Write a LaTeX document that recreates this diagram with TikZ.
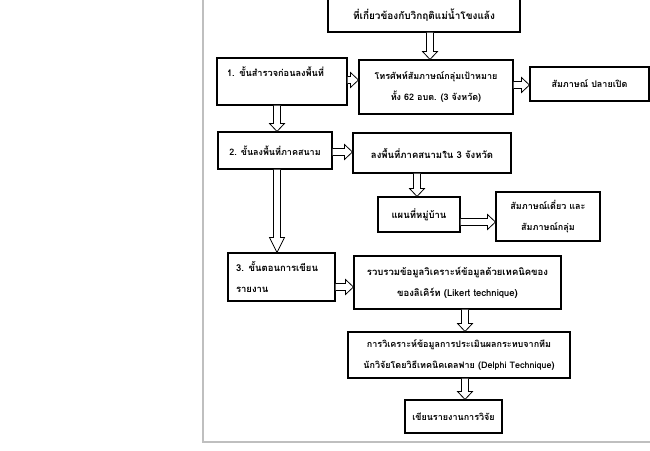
\documentclass[tikz,border=0pt]{standalone}
\usepackage{fontspec}
\newfontfamily\thai[Script=Thai]{Loma}
\usetikzlibrary{calc}
\tikzset{
  fs/.style={font=\thai\bfseries\fontsize{#1}{21}\selectfont},
  box/.style={draw=black, line width=1.1pt, inner sep=0pt, align=center, fs=9},
  barrow/.style={draw=black, line width=0.8pt, fill=white, line join=miter},
  frameline/.style={draw=black!25, line width=1.6pt}
}
\newcommand\darrow[4][8]{\draw[barrow] let \p1=(#2), \p2=(#3) in
 (#4pt-3.5pt,\y1) -- (#4pt-3.5pt,\y2+#1pt) -- (#4pt-7.5pt,\y2+#1pt) -- (#4pt,\y2)
 -- (#4pt+7.5pt,\y2+#1pt) -- (#4pt+3.5pt,\y2+#1pt) -- (#4pt+3.5pt,\y1);}
\newcommand\rarrow[4][8]{\draw[barrow] let \p1=(#2), \p2=(#3) in
 (\x1,-#4pt+3.5pt) -- (\x2-#1pt,-#4pt+3.5pt) -- (\x2-#1pt,-#4pt+7.5pt) -- (\x2,-#4pt)
 -- (\x2-#1pt,-#4pt-7.5pt) -- (\x2-#1pt,-#4pt-3.5pt) -- (\x1,-#4pt-3.5pt);}
\begin{document}
\begin{tikzpicture}[x=1pt,y=-1pt]
\useasboundingbox (0,0) rectangle (650,450);
\clip (0,0) rectangle (650,450);
\fill[white] (0,0) rectangle (650,450);
\draw[frameline] (203,0) -- (203,442) -- (650,442);

\node[box, fs=10, minimum width=192, minimum height=62, text height=49pt, text depth=13pt] (top) at (424,1)
  {ที่เกี่ยวข้องกับวิกฤติแม่น้ำโขงแล้ง};
\node[box, fs=9.2, minimum width=130, minimum height=47, text height=18pt, text depth=29pt,
  align=left, text width=110pt] (s1) at (282,81.5) {1. ขั้นสำรวจก่อนลงพื้นที่};
\node[box, fs=9, minimum width=154, minimum height=54] (A) at (436,87)
  {โทรศัพท์สัมภาษณ์กลุ่มเป้าหมาย\\ทั้ง 62 อบต. (3 จังหวัด)};
\node[box, fs=9, minimum width=119, minimum height=34] (R) at (589.5,84) {สัมภาษณ์ ปลายเปิด};
\node[box, fs=9, minimum width=114, minimum height=37] (s2) at (275,150.5) {2. ขั้นลงพื้นที่ภาคสนาม};
\node[box, fs=9.5, minimum width=158, minimum height=40] (B) at (432,153) {ลงพื้นที่ภาคสนามใน 3 จังหวัด};
\node[box, fs=9.5, minimum width=82, minimum height=35] (C) at (419,214.5) {แผนที่หมู่บ้าน};
\node[box, fs=9, minimum width=104, minimum height=49] (D) at (548,216.5) {สัมภาษณ์เดี่ยว และ\\สัมภาษณ์กลุ่ม};
\node[box, fs=9.5, minimum width=107, minimum height=48, align=left, text width=91pt] (s3) at (281.5,277)
  {3. ขั้นตอนการเขียน\\รายงาน};
\node[box, fs=9.5, minimum width=207, minimum height=53] (E) at (457.5,282.5)
  {รวบรวมข้อมูลวิเคราะห์ข้อมูลด้วยเทคนิคของ\\ของลิเคิร์ท (Likert technique)};
\node[box, fs=9, minimum width=222, minimum height=46] (F) at (459,355)
  {การวิเคราะห์ข้อมูลการประเมินผลกระทบจากทีม\\นักวิจัยโดยวิธีเทคนิคเดลฟาย (Delphi Technique)};
\node[box, fs=9, minimum width=97, minimum height=33] (G) at (453.5,416.5) {เขียนรายงานการวิจัย};

\darrow{top.south}{A.north}{430}
\darrow{s1.south}{s2.north}{277}
\darrow[15]{s2.south}{s3.north}{277}
\darrow{B.south}{C.north}{417}
\darrow{E.south}{F.north}{465}
\darrow{F.south}{G.north}{465}
\rarrow{s1.east}{A.west}{80}
\rarrow{A.east}{R.west}{85}
\rarrow{s2.east}{B.west}{152}
\rarrow{C.east}{D.west}{222}
\rarrow{s3.east}{E.west}{287}
\end{tikzpicture}
\end{document}
